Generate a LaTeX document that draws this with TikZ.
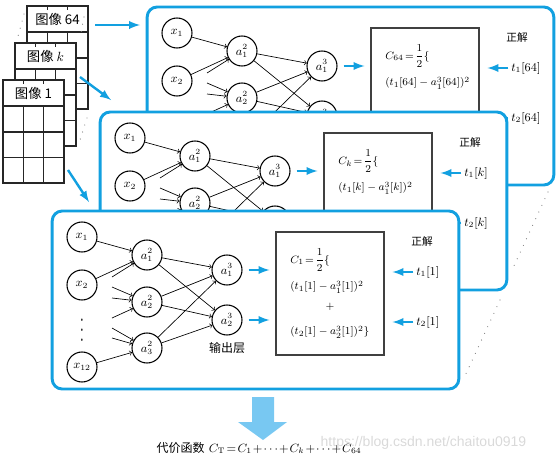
\documentclass[tikz,border=0pt]{standalone}
\usepackage{amsmath}
\usepackage{fontspec}
\newfontfamily\cjk{Noto Sans CJK SC}
\newfontfamily\urlfont{Liberation Sans}
\usetikzlibrary{arrows,positioning,calc}
\definecolor{panelblue}{RGB}{18,160,224}
\definecolor{lightblue}{RGB}{120,200,242}

\begin{document}
\begin{tikzpicture}[x=0.75pt, y=-0.75pt,
    panel/.style={draw=panelblue, line width=2.2pt, fill=white, rounded corners=7.5pt, minimum width=305pt, minimum height=133.5pt},
    neuron/.style={circle, draw, line width=0.8pt, fill=white, minimum size=22.5pt, inner sep=0pt, font=\small},
    link/.style={->, line width=0.5pt},
    barrow/.style={-latex, draw=panelblue, line width=1.8pt},
    costbox/.style={rectangle, draw=black!75, line width=0.8pt, minimum width=81pt, minimum height=92.25pt},
    formula/.style={anchor=west, inner sep=0pt, font=\footnotesize},
    imgline/.style={draw=black!85, line width=0.9pt},
    dotline/.style={draw=gray, line width=0.9pt, dash pattern=on 0.01pt off 5.5pt, line cap=round}
]
\path[use as bounding box] (0,0) rectangle (560,461);

% Image stack
\foreach \ix/\iy/\n/\txt in {27/6/64/64, 15/43/k/$k$, 3/80/1/1}{
  \filldraw[imgline, fill=white] (\ix,\iy) rectangle ++(61,103);
  \draw[imgline] (\ix,\iy+26) -- ++(61,0) (\ix,\iy+52) -- ++(61,0) (\ix,\iy+77.5) -- ++(61,0);
  \draw[imgline] (\ix+20.3,\iy+26) -- ++(0,77) (\ix+40.7,\iy+26) -- ++(0,77);
  \draw[imgline] (\ix+20.3,\iy) -- ++(0,4) (\ix+40.7,\iy) -- ++(0,4);
  \node[font=\cjk] (img\n) at (\ix+30.5,\iy+13) {图像 \txt};
}
\draw[dotline] (24,14) -- (17,40);
\draw[dotline] (84,17) -- (80,38);
\draw[dotline] (87,118) -- (80,140);

% Arrows from images to panels
\coordinate (from64) at (95,25);  \coordinate (to64) at (140,25);
\coordinate (fromk) at (80,77);   \coordinate (tok) at (111,100);
\coordinate (from1) at (68,170);  \coordinate (to1) at (89,202);
\draw[barrow] (from64) -- (to64);
\draw[barrow] (fromk) -- (tok);
\draw[barrow] (from1) -- (to1);

% Dots between panels
\draw[dotline] (548,192) -- (513,268);
\draw[dotline] (500,300) -- (464,378);

% Panels (back to front)
\foreach \dx/\dy/\idx in {95/-204/64, 48/-99/k, 0/0/1}{
\begin{scope}[shift={(\dx,\dy)}]
  \node[panel] (panel\idx) at (255.5,300) {};
  % input layer
  \node[neuron] (x1) at (82,237) {$x_1$};
  \node[neuron] (x2) at (82,285) {$x_2$};
  \node[neuron] (x12) at (82,367) {$x_{12}$};
  % hidden layer
  \node[neuron] (a21) at (147,255) {$a^2_1$};
  \node[neuron] (a22) at (147,302) {$a^2_2$};
  \node[neuron] (a23) at (147,348) {$a^2_3$};
  % output layer
  \node[neuron] (a31) at (227,270) {$a^3_1$};
  \node[neuron] (a32) at (227,320) {$a^3_2$};
  \coordinate (s1) at (112,277);
  \coordinate (s2) at (112,287);
  \coordinate (s3) at (112,298);
  \coordinate (s4) at (112,318);
  \coordinate (s5) at (112,328);
  \coordinate (s6) at (112,338);
  \draw[link] (x1) -- (a21);
  \draw[link] (x2) -- (a21);
  \draw[link] (s1) -- (a21);
  \draw[link] (s2) -- (a22);
  \draw[link] (s3) -- (a22);
  \draw[link] (s4) -- (a22);
  \draw[link] (s5) -- (a23);
  \draw[link] (s6) -- (a23);
  \draw[link] (x12) -- (a23);
  \foreach \h in {a21,a22,a23}{
    \draw[link] (\h) -- (a31);
    \draw[link] (\h) -- (a32);
  }
  % cost
  \node[costbox] (box) at (330,293.5) {};
  \node[formula] (c) at (290,260) {$C_{\idx}\!=\!\dfrac{1}{2}\{$};
  \node[formula] (e1) at (290,287) {$(t_1[\idx]-a^3_1[\idx])^2$};
  \draw[barrow, shorten <=4.5pt, shorten >=4.5pt] (a31) -- (a31 -| box.west);
  \draw[barrow, shorten <=4.5pt, shorten >=4.5pt] (a32) -- (a32 -| box.west);
  % targets
  \node[font=\cjk\footnotesize] (ans) at (422,241) {正解};
  \node[anchor=west, inner sep=0pt, font=\small] (t1) at (416,272) {$t_1[\idx]$};
  \node[anchor=west, inner sep=0pt, font=\small] (t2) at (416,322) {$t_2[\idx]$};
  \draw[barrow, shorten <=2pt, shorten >=6pt] (t1.west) -- (t1.west -| box.east);
  \draw[barrow, shorten <=2pt, shorten >=6pt] (t2.west) -- (t2.west -| box.east);
\end{scope}
}

% Front panel extras
\node (xdots) at (82,323) {\scalebox{1}[1.8]{$\vdots$}};
\node[font=\cjk\small] (outlbl) at (227,348) {输出层};
\node[font=\footnotesize] (plus) at (330,307) {$+$};
\node[formula] (e2) at (290,332) {$(t_2[1]-a^3_2[1])^2\}$};

% Total cost
\fill[lightblue] (252,397) -- (274,397) -- (274,422) -- (287,422) -- (263,440) -- (238,422) -- (252,422) -- cycle;
\node[anchor=west, font=\small] (cost) at (152,448) {{\cjk 代价函数} {\thickmuskip=2mu \medmuskip=1.5mu $C_{\mathrm{T}}=C_1+\cdots+C_k+\cdots+C_{64}$}};
\node[anchor=west, text=gray!30, font=\urlfont\fontsize{10.5}{12}\selectfont] (wm) at (316,443) {https://blog.csdn.net/chaitou0919};

\end{tikzpicture}
\end{document}
